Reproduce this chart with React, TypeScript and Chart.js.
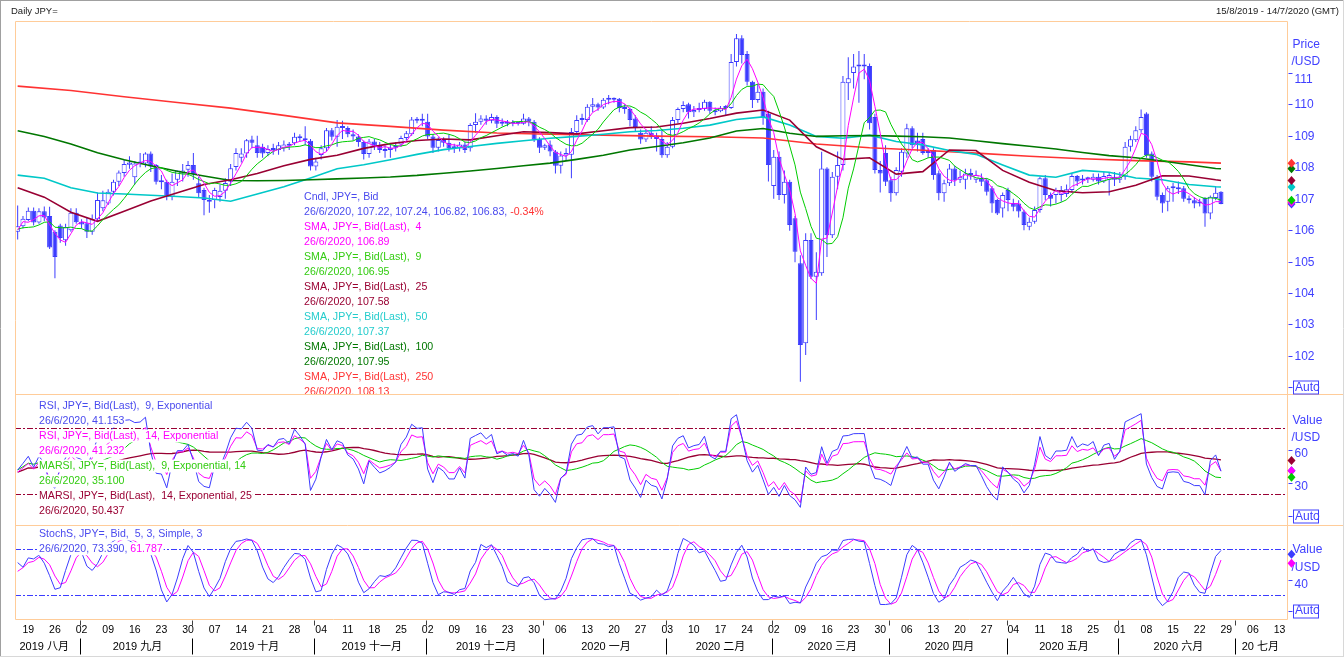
import React, { useEffect, useRef } from 'react';
import { Chart, registerables } from 'chart.js';

Chart.register(...registerables);

// ---------------- DATA (JPY=, daily, 15/8/2019 - 26/6/2020, one slot per weekday) ----------------
const opens = [
  105.95, 106.12, 106.32, 106.62, 106.24, 106.60, 106.45, 105.95, 106.15, 105.68,
  106.00, 106.55, 106.27, 106.22, 105.95, 106.35, 106.70, 106.85, 107.22, 107.54,
  107.82, 108.08, 107.68, 108.12, 108.12, 108.44, 108.07, 107.58, 107.54, 107.06,
  107.60, 107.80, 107.92, 108.07, 107.49, 107.28, 106.95, 106.96, 107.05, 107.25,
  107.54, 108.01, 108.30, 108.44, 108.88, 108.70, 108.65, 108.45, 108.58, 108.55,
  108.60, 108.72, 108.76, 108.95, 108.92, 108.84, 108.02, 108.39, 108.60, 109.18,
  108.97, 109.30, 109.25, 109.05, 108.98, 108.80, 108.42, 108.82, 108.68, 108.52,
  108.55, 108.62, 108.72, 108.93, 109.05, 109.52, 109.48, 109.45, 108.98, 108.62,
  108.87, 108.78, 108.60, 108.60, 108.72, 108.60, 109.34, 109.45, 109.55, 109.48,
  109.60, 109.38, 109.42, 109.38, 109.40, 109.38, 109.55, 109.45, 108.90, 108.62,
  108.72, 108.50, 108.05, 108.37, 108.40, 109.12, 109.50, 109.50, 109.92, 110.00,
  109.90, 110.15, 110.15, 110.18, 109.90, 109.85, 109.55, 109.10, 108.88, 109.10,
  109.00, 108.90, 108.38, 108.65, 109.50, 109.85, 110.00, 109.75, 109.82, 109.85,
  110.08, 109.80, 109.78, 109.90, 109.88, 111.35, 112.10, 111.60, 110.72, 110.14,
  110.40, 109.70, 107.40, 108.33, 107.12, 107.54, 106.38, 104.95, 102.40, 105.69,
  104.52, 104.63, 107.96, 105.84, 107.70, 108.07, 110.67, 111.00, 111.20, 111.20,
  111.22, 109.60, 107.91, 108.45, 107.59, 107.17, 107.86, 108.44, 109.24, 108.85,
  108.90, 108.45, 108.55, 107.81, 107.17, 107.49, 107.96, 107.60, 107.60, 107.75,
  107.60, 107.65, 107.59, 107.33, 106.96, 106.69, 107.28, 106.86, 106.85, 106.59,
  106.11, 106.27, 106.64, 107.65, 107.12, 107.12, 107.12, 107.15, 107.28, 107.72,
  107.58, 107.64, 107.60, 107.70, 107.55, 107.60, 107.70, 107.60, 107.70, 108.65,
  108.86, 109.18, 109.71, 108.44, 107.70, 107.12, 106.90, 107.33, 107.30, 107.33,
  107.00, 106.95, 106.88, 107.02, 106.53, 107.02, 107.22,
];
const highs = [
  106.78, 106.45, 106.72, 106.72, 106.70, 106.75, 106.74, 106.00, 106.20, 106.20,
  106.70, 106.70, 106.35, 106.40, 106.50, 107.20, 107.25, 107.30, 107.60, 107.90,
  108.25, 108.35, 108.20, 108.45, 108.48, 108.50, 108.10, 107.75, 107.60, 107.80,
  107.90, 108.10, 108.20, 108.45, 107.70, 107.35, 107.12, 107.35, 107.45, 107.65,
  108.10, 108.60, 108.60, 108.90, 109.00, 109.00, 108.75, 108.70, 108.75, 108.80,
  108.85, 108.80, 109.10, 109.05, 109.30, 108.90, 108.30, 108.70, 109.25, 109.25,
  109.50, 109.48, 109.30, 109.20, 109.05, 108.85, 108.90, 108.90, 108.80, 108.70,
  108.75, 108.80, 109.00, 109.15, 109.60, 109.60, 109.70, 109.70, 109.05, 108.95,
  108.95, 109.05, 108.75, 108.80, 108.80, 109.40, 109.72, 109.65, 109.65, 109.70,
  109.65, 109.55, 109.50, 109.50, 109.45, 109.70, 109.60, 109.50, 108.95, 108.75,
  108.85, 108.55, 108.50, 108.60, 109.25, 109.65, 109.70, 110.00, 110.20, 110.05,
  110.20, 110.30, 110.22, 110.20, 110.00, 109.90, 109.65, 109.20, 109.20, 109.30,
  109.10, 109.20, 108.80, 109.60, 109.90, 110.10, 110.05, 109.95, 110.05, 110.15,
  110.10, 109.90, 109.95, 109.98, 111.60, 112.24, 112.20, 111.70, 110.75, 110.65,
  110.50, 109.80, 108.55, 108.50, 107.90, 107.60, 106.45, 105.20, 105.90, 105.90,
  105.30, 108.49, 108.00, 107.85, 108.50, 110.90, 111.50, 111.60, 111.70, 111.60,
  111.30, 109.70, 108.20, 108.70, 107.70, 108.00, 108.60, 109.38, 109.30, 109.10,
  109.10, 108.60, 108.60, 107.90, 107.60, 108.10, 108.05, 107.90, 107.95, 107.95,
  107.90, 107.80, 107.65, 107.40, 107.00, 107.20, 107.35, 107.00, 106.95, 106.65,
  106.40, 106.75, 107.70, 107.75, 107.20, 107.35, 107.40, 107.45, 107.80, 107.75,
  107.75, 107.70, 107.80, 107.80, 107.85, 107.85, 107.85, 107.85, 108.80, 109.00,
  109.30, 109.84, 109.75, 108.50, 107.75, 107.20, 107.40, 107.50, 107.55, 107.40,
  107.10, 107.05, 107.00, 107.05, 107.10, 107.40, 107.24,
];
const lows = [
  105.70, 106.05, 106.28, 106.15, 106.20, 106.28, 105.40, 104.47, 105.60, 105.50,
  105.95, 106.20, 106.05, 105.75, 105.85, 106.30, 106.60, 106.80, 107.10, 107.40,
  107.70, 107.95, 107.45, 108.00, 108.00, 107.85, 107.45, 107.30, 106.95, 106.95,
  107.40, 107.55, 107.70, 107.60, 107.05, 106.47, 106.55, 106.70, 106.90, 107.00,
  107.40, 107.90, 108.15, 108.30, 108.60, 108.30, 108.30, 108.35, 108.40, 108.40,
  108.50, 108.55, 108.70, 108.80, 108.70, 107.90, 107.90, 108.25, 108.50, 108.85,
  108.65, 108.90, 108.95, 108.85, 108.65, 108.25, 108.30, 108.55, 108.45, 108.30,
  108.30, 108.50, 108.65, 108.85, 109.00, 109.40, 109.30, 108.90, 108.45, 108.50,
  108.65, 108.50, 108.45, 108.50, 108.45, 108.50, 109.10, 109.35, 109.35, 109.40,
  109.25, 109.30, 109.30, 109.30, 109.33, 109.35, 109.30, 108.80, 108.45, 108.55,
  108.35, 107.80, 107.80, 108.20, 107.65, 109.05, 109.35, 109.45, 109.75, 109.80,
  109.85, 110.00, 110.05, 109.75, 109.70, 109.30, 109.15, 108.75, 108.80, 108.90,
  108.50, 108.30, 108.30, 108.60, 109.40, 109.75, 109.55, 109.60, 109.75, 109.80,
  109.70, 109.65, 109.75, 109.65, 109.85, 111.20, 111.30, 110.60, 109.88, 110.05,
  109.35, 107.55, 107.00, 106.96, 106.85, 105.98, 104.98, 101.18, 102.03, 104.45,
  103.14, 104.55, 105.15, 105.75, 107.30, 107.90, 110.14, 110.50, 110.05, 110.80,
  109.20, 107.80, 107.20, 107.40, 106.90, 107.10, 107.70, 108.30, 108.60, 108.50,
  108.40, 108.30, 107.60, 106.95, 106.90, 107.40, 107.40, 107.50, 107.30, 107.60,
  107.50, 107.40, 107.10, 106.55, 106.48, 106.40, 106.60, 106.60, 106.40, 106.00,
  106.00, 106.20, 106.55, 106.95, 106.75, 106.85, 106.90, 107.05, 107.20, 107.40,
  107.45, 107.50, 107.55, 107.45, 107.50, 107.10, 107.40, 107.50, 107.60, 108.50,
  108.80, 109.10, 108.30, 107.55, 106.95, 106.55, 106.60, 106.90, 107.15, 106.90,
  106.85, 106.70, 106.75, 106.11, 106.35, 106.95, 106.82,
];
const closes = [
  106.12, 106.36, 106.62, 106.24, 106.60, 106.40, 105.45, 105.15, 105.75, 106.10,
  106.55, 106.25, 106.18, 105.95, 106.35, 106.96, 106.95, 107.22, 107.54, 107.83,
  108.10, 108.15, 108.12, 108.15, 108.44, 108.02, 107.54, 107.52, 107.06, 107.54,
  107.90, 107.90, 108.07, 107.78, 107.17, 106.96, 106.90, 107.28, 107.25, 107.50,
  107.97, 108.45, 108.44, 108.86, 108.78, 108.45, 108.44, 108.58, 108.55, 108.70,
  108.72, 108.68, 108.97, 108.92, 108.86, 108.02, 108.18, 108.60, 109.18, 108.97,
  109.29, 109.25, 109.05, 108.98, 108.80, 108.42, 108.82, 108.68, 108.55, 108.58,
  108.62, 108.68, 108.93, 109.08, 109.52, 109.48, 109.50, 108.98, 108.62, 108.87,
  108.78, 108.60, 108.60, 108.72, 108.55, 109.34, 109.45, 109.55, 109.48, 109.60,
  109.38, 109.42, 109.38, 109.40, 109.38, 109.55, 109.45, 108.88, 108.62, 108.70,
  108.50, 108.05, 108.37, 108.45, 109.12, 109.50, 109.55, 109.92, 110.00, 109.90,
  110.15, 110.15, 110.18, 109.88, 109.85, 109.50, 109.28, 108.88, 109.10, 108.95,
  108.90, 108.38, 108.65, 109.50, 109.85, 109.98, 109.75, 109.82, 109.85, 110.08,
  109.80, 109.75, 109.88, 109.88, 111.35, 112.10, 111.57, 110.72, 110.14, 110.40,
  109.60, 108.07, 108.33, 107.12, 107.54, 106.16, 105.31, 102.35, 105.69, 104.52,
  104.68, 107.96, 105.84, 107.70, 108.07, 110.72, 110.83, 111.20, 111.22, 111.22,
  109.40, 107.91, 107.80, 107.54, 107.17, 107.91, 108.49, 109.24, 108.70, 108.75,
  108.45, 108.45, 107.75, 107.17, 107.49, 107.96, 107.59, 107.70, 107.80, 107.75,
  107.75, 107.54, 107.22, 106.85, 106.53, 107.12, 106.96, 106.74, 106.59, 106.16,
  106.27, 106.64, 107.65, 107.12, 107.00, 107.28, 107.28, 107.30, 107.72, 107.55,
  107.64, 107.62, 107.70, 107.55, 107.72, 107.75, 107.60, 107.70, 108.65, 108.89,
  109.18, 109.60, 108.39, 107.70, 107.06, 106.85, 107.33, 107.35, 107.33, 107.00,
  106.95, 106.85, 106.85, 106.53, 107.06, 107.19, 106.83,
];

// sessions before the visible window (1/8/2019 - 14/8/2019), used only to seed the indicators
const priorHighs = [109.32, 107.50, 106.70, 106.60, 106.70, 106.60, 106.20, 105.70, 106.95, 106.75];
const priorLows = [107.20, 106.50, 105.50, 105.50, 105.50, 105.90, 105.30, 105.05, 105.20, 105.65];
const priorCloses = [107.35, 106.60, 105.95, 106.50, 106.10, 106.05, 105.65, 105.30, 106.70, 105.90];

// long moving averages (slot index -> value)
const longIdx = [0, 5, 10, 15, 20, 25, 30, 35, 40, 45, 50, 55, 60, 65, 70, 75, 80, 85, 90, 95, 100, 105, 110, 115, 120, 125, 130, 135, 140, 145, 150, 155, 160, 165, 170, 175, 180, 185, 190, 195, 200, 205, 210, 215, 220, 225, 226];
const sma25 = [
  107.35, 107.05, 106.57, 106.28, 106.60, 106.93, 107.19, 107.45, 107.60, 107.80,
  108.05, 108.25, 108.38, 108.60, 108.75, 108.85, 108.90, 108.87, 109.00, 109.13,
  109.10, 109.06, 109.16, 109.26, 109.28, 109.40, 109.55, 109.72, 109.82, 109.50,
  108.65, 108.25, 108.30, 107.78, 107.86, 108.55, 108.53, 107.90, 107.52, 107.25,
  107.19, 107.22, 107.43, 107.73, 107.72, 107.60, 107.58,
];
const sma50 = [
  107.75, 107.65, 107.35, 107.18, 107.15, 107.11, 107.07, 107.02, 106.92, 107.15,
  107.38, 107.66, 107.95, 108.08, 108.24, 108.41, 108.56, 108.66, 108.76, 108.84,
  108.92, 108.98, 109.05, 109.13, 109.17, 109.24, 109.34, 109.52, 109.60, 109.34,
  108.98, 108.92, 109.02, 108.82, 108.71, 108.53, 108.41, 108.07, 107.75, 107.68,
  107.90, 107.84, 107.66, 107.60, 107.45, 107.38, 107.37,
];
const sma100 = [
  109.16, 108.98, 108.74, 108.46, 108.24, 108.05, 107.87, 107.72, 107.58, 107.57,
  107.58, 107.60, 107.63, 107.66, 107.69, 107.74, 107.81, 107.88, 107.96, 108.05,
  108.13, 108.25, 108.38, 108.55, 108.66, 108.78, 108.93, 109.15, 109.23, 109.08,
  108.98, 109.00, 109.01, 108.99, 108.97, 108.93, 108.84, 108.75, 108.67, 108.58,
  108.47, 108.37, 108.30, 108.20, 108.08, 107.96, 107.95,
];
const sma250Idx = [0, 10, 20, 30, 40, 50, 60, 70, 80, 90, 100, 110, 120, 130, 140, 150, 160, 170, 180, 190, 200, 210, 220, 226];
const sma250 = [
  110.58, 110.44, 110.24, 110.06, 109.88, 109.65, 109.41, 109.30, 109.18, 109.09,
  109.05, 109.02, 108.99, 108.97, 108.93, 108.74, 108.62, 108.54, 108.45, 108.35,
  108.27, 108.21, 108.17, 108.13,
];

// axis labels
const mondayLabels = ['19', '26', '02', '09', '16', '23', '30', '07', '14', '21', '28', '04', '11', '18', '25', '02', '09', '16', '23', '30', '06', '13', '20', '27', '03', '10', '17', '24', '02', '09', '16', '23', '30', '06', '13', '20', '27', '04', '11', '18', '25', '01', '08', '15', '22', '29', '06', '13'];
const monthStartIdx = [-10, 12, 33, 56, 77, 99, 122, 142, 164, 186, 207, 229, 252];
const monthLabels = ['2019 八月', '2019 九月', '2019 十月', '2019 十一月', '2019 十二月', '2020 一月', '2020 二月', '2020 三月', '2020 四月', '2020 五月', '2020 六月', '20 七月'];
const priceTicks = [102, 103, 104, 105, 106, 107, 108, 109, 110, 111];
const rsiTicks = [60, 30];
const stochTicks = [40];
const rsiLevels = [80, 20];
const stochLevels = [80, 20];

// last values shown in the legends / right-hand markers
const lastPrice = { cndl: 106.83, sma4: 106.89, sma9: 106.95, sma25: 107.58, sma50: 107.37, sma100: 107.95, sma250: 108.13 };
const lastRsi = { rsi9: 41.153, rsi14: 41.232, marsi9: 35.1, marsi14: 50.437 };
const lastStoch = { k: 73.39, d: 61.787 };

// ---------------- STYLE ----------------
const BLUE = '#3c3cff';
const TXT_BLUE = '#4a4aee';
const MAGENTA = '#ff00ff';
const GREEN = '#00cc00';
const TXT_GREEN = '#33cc11';
const MAROON = '#990033';
const CYAN = '#00c8c8';
const TXT_CYAN = '#22cccc';
const DKGREEN = '#007700';
const RED = '#ff3333';
const PEACH = '#ffcc99';
const AXIS_BLUE = '#4040ff';
const FONT = '"Liberation Sans", Arial, "Noto Sans CJK SC", sans-serif';

// ---------------- INDICATORS (derived from the OHLC arrays) ----------------
const P = priorCloses.length;
const allC = priorCloses.concat(closes);
const allH = priorHighs.concat(highs);
const allL = priorLows.concat(lows);

function movingAvg(src: number[], end: number, n: number) {
  const s = Math.max(0, end - n + 1);
  let sum = 0;
  for (let k = s; k <= end; k++) sum += src[k];
  return sum / (end - s + 1);
}
const sma4 = closes.map((_, i) => movingAvg(allC, P + i, 4));
const sma9 = closes.map((_, i) => movingAvg(allC, P + i, 9));

function rsiExp(n: number) {
  const a = 2 / (n + 1);
  let g = 0;
  let l = 0;
  for (let k = 1; k < P; k++) {
    const d = allC[k] - allC[k - 1];
    g += Math.max(d, 0);
    l += Math.max(-d, 0);
  }
  g /= P - 1;
  l /= P - 1;
  const out: number[] = [];
  for (let k = P; k < allC.length; k++) {
    const d = allC[k] - allC[k - 1];
    g += a * (Math.max(d, 0) - g);
    l += a * (Math.max(-d, 0) - l);
    out.push((100 * g) / (g + l));
  }
  return out;
}
const rsi9 = rsiExp(9);
const rsi14 = rsiExp(14);
const marsi9 = rsi9.map((_, i) => movingAvg(rsi9, i, 14));
const marsi14 = rsi14.map((_, i) => movingAvg(rsi14, i, 25));

const fastK = allC.map((c, k) => {
  if (k < 4) return NaN;
  const hh = Math.max(...allH.slice(k - 4, k + 1));
  const ll = Math.min(...allL.slice(k - 4, k + 1));
  return hh > ll ? (100 * (c - ll)) / (hh - ll) : 50;
});
const slowKAll = fastK.map((_, k) => (k < 6 ? NaN : (fastK[k] + fastK[k - 1] + fastK[k - 2]) / 3));
const pctDAll = slowKAll.map((_, k) => (k < 8 ? NaN : (slowKAll[k] + slowKAll[k - 1] + slowKAll[k - 2]) / 3));
const slowK = slowKAll.slice(P);
const pctD = pctDAll.slice(P);

// ---------------- LEGENDS ----------------
type Seg = { t: string; c: string };
const priceLegend: Seg[][] = [
  [{ t: 'Cndl, JPY=, Bid', c: TXT_BLUE }],
  [{ t: '26/6/2020, 107.22, 107.24, 106.82, 106.83, ', c: TXT_BLUE }, { t: '-0.34%', c: RED }],
  [{ t: 'SMA, JPY=, Bid(Last),  4', c: MAGENTA }],
  [{ t: '26/6/2020, ' + lastPrice.sma4.toFixed(2), c: MAGENTA }],
  [{ t: 'SMA, JPY=, Bid(Last),  9', c: TXT_GREEN }],
  [{ t: '26/6/2020, ' + lastPrice.sma9.toFixed(2), c: TXT_GREEN }],
  [{ t: 'SMA, JPY=, Bid(Last),  25', c: MAROON }],
  [{ t: '26/6/2020, ' + lastPrice.sma25.toFixed(2), c: MAROON }],
  [{ t: 'SMA, JPY=, Bid(Last),  50', c: TXT_CYAN }],
  [{ t: '26/6/2020, ' + lastPrice.sma50.toFixed(2), c: TXT_CYAN }],
  [{ t: 'SMA, JPY=, Bid(Last),  100', c: DKGREEN }],
  [{ t: '26/6/2020, ' + lastPrice.sma100.toFixed(2), c: DKGREEN }],
  [{ t: 'SMA, JPY=, Bid(Last),  250', c: RED }],
  [{ t: '26/6/2020, ' + lastPrice.sma250.toFixed(2), c: RED }],
];
const rsiLegend: Seg[][] = [
  [{ t: 'RSI, JPY=, Bid(Last),  9, Exponential', c: TXT_BLUE }],
  [{ t: '26/6/2020, ' + lastRsi.rsi9.toFixed(3), c: TXT_BLUE }],
  [{ t: 'RSI, JPY=, Bid(Last),  14, Exponential', c: MAGENTA }],
  [{ t: '26/6/2020, ' + lastRsi.rsi14.toFixed(3), c: MAGENTA }],
  [{ t: 'MARSI, JPY=, Bid(Last),  9, Exponential, 14', c: TXT_GREEN }],
  [{ t: '26/6/2020, ' + lastRsi.marsi9.toFixed(3), c: TXT_GREEN }],
  [{ t: 'MARSI, JPY=, Bid(Last),  14, Exponential, 25', c: MAROON }],
  [{ t: '26/6/2020, ' + lastRsi.marsi14.toFixed(3), c: MAROON }],
];
const stochLegend: Seg[][] = [
  [{ t: 'StochS, JPY=, Bid,  5, 3, Simple, 3', c: TXT_BLUE }],
  [{ t: '26/6/2020, ' + lastStoch.k.toFixed(3) + ', ', c: TXT_BLUE }, { t: lastStoch.d.toFixed(3), c: MAGENTA }],
];

function drawLegend(ctx: any, x: number, y0: number, step: number, lines: Seg[][], clip: any) {
  ctx.save();
  ctx.beginPath();
  ctx.rect(clip.left, clip.top, clip.right - clip.left, clip.bottom - clip.top);
  ctx.clip();
  ctx.font = `10.6px ${FONT}`;
  ctx.textBaseline = 'middle';
  ctx.textAlign = 'left';
  lines.forEach((segs, k) => {
    const y = y0 + k * step;
    let w = 0;
    segs.forEach((s) => (w += ctx.measureText(s.t).width));
    ctx.fillStyle = '#ffffff';
    ctx.fillRect(x - 1, y - 6.5, w + 2, 13);
    let cx = x;
    segs.forEach((s) => {
      ctx.fillStyle = s.c;
      ctx.fillText(s.t, cx, y);
      cx += ctx.measureText(s.t).width;
    });
  });
  ctx.restore();
}

function hline(ctx: any, x1: number, x2: number, y: number) {
  ctx.beginPath();
  ctx.moveTo(x1, y);
  ctx.lineTo(x2, y);
  ctx.stroke();
}
function vline(ctx: any, x: number, y1: number, y2: number) {
  ctx.beginPath();
  ctx.moveTo(x, y1);
  ctx.lineTo(x, y2);
  ctx.stroke();
}
function diamond(ctx: any, x: number, y: number, color: string) {
  ctx.fillStyle = color;
  ctx.beginPath();
  ctx.moveTo(x, y - 4.5);
  ctx.lineTo(x + 4, y);
  ctx.lineTo(x, y + 4.5);
  ctx.lineTo(x - 4, y);
  ctx.closePath();
  ctx.fill();
}

const decorPlugin = {
  id: 'decor',
  beforeDatasetsDraw(chart: any) {
    const { ctx } = chart;
    const xs = chart.scales.x;
    const yR = chart.scales.yR;
    const yS = chart.scales.yS;
    ctx.save();
    ctx.lineWidth = 1;
    ctx.setLineDash([6, 2, 2, 2]);
    ctx.strokeStyle = MAROON;
    rsiLevels.forEach((v) => hline(ctx, xs.left, xs.right, Math.round(yR.getPixelForValue(v)) + 0.5));
    ctx.strokeStyle = BLUE;
    stochLevels.forEach((v) => hline(ctx, xs.left, xs.right, Math.round(yS.getPixelForValue(v)) + 0.5));
    ctx.restore();
  },
  afterDatasetsDraw(chart: any) {
    const { ctx } = chart;
    const xs = chart.scales.x;
    const yP = chart.scales.yP;
    const yR = chart.scales.yR;
    const yS = chart.scales.yS;
    drawLegend(ctx, 304, yP.top + 176, 15, priceLegend, { left: xs.left, right: xs.right, top: yP.top, bottom: yP.bottom });
    drawLegend(ctx, 39, yR.top + 12, 15, rsiLegend, { left: xs.left, right: xs.right, top: yR.top, bottom: yR.bottom });
    drawLegend(ctx, 39, yS.top + 9, 14.7, stochLegend, { left: xs.left, right: xs.right, top: yS.top, bottom: yS.bottom });
  },
  afterDraw(chart: any) {
    const { ctx } = chart;
    const W = chart.width;
    const H = chart.height;
    const xs = chart.scales.x;
    const yP = chart.scales.yP;
    const yR = chart.scales.yR;
    const yS = chart.scales.yS;
    const L = Math.round(xs.left) + 0.5;
    const R = Math.round(xs.right) + 0.5;
    const T = Math.round(yP.top) + 0.5;
    const B = Math.round(yS.bottom) + 0.5;
    ctx.save();

    // panel frames
    ctx.lineWidth = 1;
    ctx.strokeStyle = PEACH;
    hline(ctx, L, R, T);
    hline(ctx, L, W, Math.round(yP.bottom) + 0.5);
    hline(ctx, L, W, Math.round(yR.bottom) + 0.5);
    hline(ctx, L, R, B);
    vline(ctx, L, T, B);
    vline(ctx, R, T, B);

    // window frame
    ctx.strokeStyle = '#a0a0a0';
    vline(ctx, 0.5, 0, H);
    hline(ctx, 0, W, 0.5);
    ctx.strokeStyle = '#d8d8d8';
    hline(ctx, 0, W, H - 0.5);
    vline(ctx, W - 0.5, 0, H);

    // header
    ctx.fillStyle = '#1a1a1a';
    ctx.font = `9.5px ${FONT}`;
    ctx.textBaseline = 'middle';
    ctx.textAlign = 'left';
    ctx.fillText('Daily JPY=', 11, 11);
    ctx.textAlign = 'right';
    ctx.fillText('15/8/2019 - 14/7/2020 (GMT)', W - 5, 11);

    // right-hand value axes
    ctx.textAlign = 'left';
    ctx.font = `12px ${FONT}`;
    ctx.fillStyle = AXIS_BLUE;
    ctx.strokeStyle = AXIS_BLUE;
    const autoBox = (cy: number) => {
      const y = Math.round(cy) + 0.5;
      hline(ctx, R + 1, R + 5, y);
      ctx.strokeRect(R + 6, y - 6.5, 25, 13);
      ctx.fillText('Auto', R + 7.5, cy + 0.5);
    };
    ctx.fillText('Price', R + 5, yP.top + 24);
    ctx.fillText('/USD', R + 4, yP.top + 41);
    priceTicks.forEach((v) => {
      const ty = Math.round(yP.getPixelForValue(v)) + 0.5;
      hline(ctx, R + 1, R + 5, ty);
      ctx.fillText(String(v), R + 7, Math.max(ty, yP.top + 59));
    });
    autoBox(yP.getPixelForValue(101));

    ctx.fillText('Value', R + 5, yR.top + 27);
    ctx.fillText('/USD', R + 4, yR.top + 44);
    rsiTicks.forEach((v) => {
      const ty = Math.round(yR.getPixelForValue(v)) + 0.5;
      hline(ctx, R + 1, R + 5, ty);
      ctx.fillText(String(v), R + 7, ty + 3);
    });
    autoBox(yR.getPixelForValue(0));

    ctx.fillText('Value', R + 5, yS.top + 25);
    ctx.fillText('/USD', R + 4, yS.top + 43);
    stochTicks.forEach((v) => {
      const ty = Math.round(yS.getPixelForValue(v)) + 0.5;
      hline(ctx, R + 1, R + 5, ty);
      ctx.fillText(String(v), R + 7, ty + 4);
    });
    autoBox(yS.getPixelForValue(0));

    // last-value markers
    const mx = R + 4;
    [
      [lastPrice.cndl, BLUE], [lastPrice.sma4, MAGENTA], [lastPrice.sma9, GREEN], [lastPrice.sma50, CYAN],
      [lastPrice.sma25, MAROON], [lastPrice.sma100, DKGREEN], [lastPrice.sma250, RED],
    ].forEach(([v, c]: any) => diamond(ctx, mx, yP.getPixelForValue(v), c));
    [
      [lastRsi.rsi9, BLUE], [lastRsi.rsi14, MAGENTA], [lastRsi.marsi9, GREEN], [lastRsi.marsi14, MAROON],
    ].forEach(([v, c]: any) => diamond(ctx, mx, yR.getPixelForValue(v), c));
    [[lastStoch.k, BLUE], [lastStoch.d, MAGENTA]].forEach(([v, c]: any) => diamond(ctx, mx, yS.getPixelForValue(v), c));

    // time axis
    ctx.fillStyle = '#000000';
    ctx.strokeStyle = '#000000';
    ctx.textAlign = 'center';
    ctx.font = `10.5px ${FONT}`;
    mondayLabels.forEach((t, k) => {
      ctx.fillText(t, xs.getPixelForValue(2 + 5 * k), B + 11);
    });
    monthStartIdx.forEach((mi) => {
      if (mi <= 0 || mi > xs.max) return;
      const px = Math.round(xs.getPixelForValue(mi) - 1.5) + 0.5;
      ctx.strokeStyle = '#404040';
      vline(ctx, px, B + 1, B + 6);
      ctx.strokeStyle = '#000000';
      vline(ctx, px, B + 19, B + 35);
    });
    ctx.font = `11px ${FONT}`;
    monthLabels.forEach((t, k) => {
      const a = xs.getPixelForValue(monthStartIdx[k]);
      const b = xs.getPixelForValue(monthStartIdx[k + 1]);
      const w = ctx.measureText(t).width;
      let c = (a + b) / 2;
      c = Math.max(c, xs.left + 4.5 + w / 2);
      c = Math.min(c, xs.right - 8 - w / 2);
      ctx.fillText(t, c, B + 27);
    });
    ctx.restore();
  },
};

const idx = closes.map((_, i) => i);
const pts = (arr: number[]) => arr.map((y, i) => ({ x: i, y }));
const sparse = (xi: number[], ys: number[]) => xi.map((x, k) => ({ x, y: ys[k] }));
const lineDs = (label: string, data: any[], color: string, width: number, yAxisID: string, order: number) => ({
  type: 'line',
  label,
  data,
  borderColor: color,
  backgroundColor: color,
  borderWidth: width,
  pointRadius: 0,
  tension: 0,
  fill: false,
  yAxisID,
  order,
});

const hidden = {
  grid: { display: false },
  border: { display: false },
  ticks: { display: false },
};

function buildConfig(): any {
  return {
    type: 'bar',
    data: {
      datasets: [
        lineDs('SMA 250', sparse(sma250Idx, sma250), RED, 1.6, 'yP', 4),
        lineDs('SMA 100', sparse(longIdx, sma100), DKGREEN, 1.6, 'yP', 3),
        lineDs('SMA 50', sparse(longIdx, sma50), CYAN, 1.6, 'yP', 3),
        lineDs('SMA 25', sparse(longIdx, sma25), MAROON, 1.6, 'yP', 2),
        lineDs('SMA 9', pts(sma9), GREEN, 1, 'yP', 1),
        lineDs('SMA 4', pts(sma4), MAGENTA, 1, 'yP', 0),
        {
          type: 'bar',
          label: 'wick',
          data: idx.map((i) => ({ x: i, y: [lows[i], highs[i]] })),
          backgroundColor: BLUE,
          borderWidth: 0,
          barThickness: 1,
          grouped: false,
          inflateAmount: 0,
          yAxisID: 'yP',
          order: 10,
        },
        {
          type: 'bar',
          label: 'body',
          data: idx.map((i) => ({ x: i, y: [Math.min(opens[i], closes[i]), Math.max(opens[i], closes[i])] })),
          backgroundColor: idx.map((i) => (closes[i] >= opens[i] ? '#ffffff' : BLUE)),
          borderColor: BLUE,
          borderWidth: 1,
          borderSkipped: false,
          barThickness: 5,
          minBarLength: 2,
          grouped: false,
          inflateAmount: 0,
          yAxisID: 'yP',
          order: 5,
        },
        lineDs('MARSI 14', pts(marsi14), MAROON, 1.3, 'yR', 3),
        lineDs('MARSI 9', pts(marsi9), GREEN, 1, 'yR', 2),
        lineDs('RSI 14', pts(rsi14), MAGENTA, 1, 'yR', 1),
        lineDs('RSI 9', pts(rsi9), BLUE, 1, 'yR', 0),
        lineDs('%D', pts(pctD), MAGENTA, 1, 'yS', 1),
        lineDs('%K', pts(slowK), BLUE, 1, 'yS', 0),
      ],
    },
    options: {
      responsive: false,
      maintainAspectRatio: false,
      animation: false,
      events: [],
      layout: { padding: { left: 15, right: 57, top: 21, bottom: 0 } },
      plugins: { legend: { display: false }, tooltip: { enabled: false } },
      scales: {
        x: {
          type: 'linear',
          min: -0.5,
          max: 238.4,
          offset: false,
          ...hidden,
          afterFit: (s: any) => {
            s.height = 38;
          },
        },
        yP: {
          type: 'linear',
          position: 'right',
          stack: 'panes',
          stackWeight: 373,
          min: 100.79,
          max: 112.65,
          beginAtZero: false,
          ...hidden,
          afterFit: (s: any) => {
            s.width = 0;
          },
        },
        yR: {
          type: 'linear',
          position: 'right',
          stack: 'panes',
          stackWeight: 131,
          min: -8.2,
          max: 110.9,
          beginAtZero: false,
          ...hidden,
          afterFit: (s: any) => {
            s.width = 0;
          },
        },
        yS: {
          type: 'linear',
          position: 'right',
          stack: 'panes',
          stackWeight: 94,
          min: -10.9,
          max: 111.7,
          beginAtZero: false,
          ...hidden,
          afterFit: (s: any) => {
            s.width = 0;
          },
        },
      },
    },
    plugins: [decorPlugin],
  };
}

export default function App() {
  const ref = useRef<HTMLCanvasElement>(null);
  useEffect(() => {
    document.body.style.margin = '0';
    document.body.style.background = '#ffffff';
    const canvas = ref.current;
    if (!canvas) return;
    const chart = new Chart(canvas, buildConfig());
    return () => chart.destroy();
  }, []);
  return (
    <canvas
      ref={ref}
      width={1344}
      height={657}
      style={{ display: 'block', width: '1344px', height: '657px' }}
    />
  );
}
